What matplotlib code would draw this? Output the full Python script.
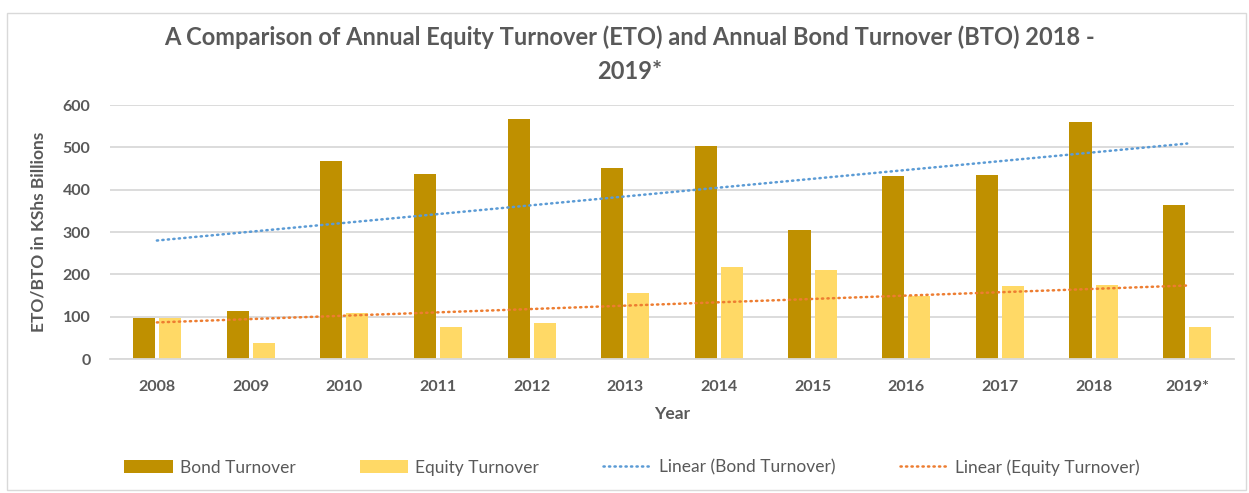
"""Equity vs bond turnover 2008-2019*, clustered bars with linear trendlines."""
import numpy as np
import matplotlib
matplotlib.use("Agg")
import matplotlib.pyplot as plt
from matplotlib.patches import Rectangle

# ── Data (KShs billions) ─────────────────────────────────────────────────────
years  = ["2008", "2009", "2010", "2011", "2012", "2013",
          "2014", "2015", "2016", "2017", "2018", "2019*"]
bond   = [97, 113, 468, 438, 566, 452, 504, 305, 432, 435, 560, 363]
equity = [97, 37, 108, 76, 86, 155, 217, 211, 150, 172, 175, 76]

BOND_C   = "#BF9000"
EQUITY_C = "#FFD966"
BLUE     = "#5B9BD5"
ORANGE   = "#ED7D31"
GREY     = "#595959"
FONT     = ["Lato", "DejaVu Sans"]

plt.rcParams["font.family"] = FONT

fig = plt.figure(figsize=(12.49, 4.93), dpi=100)
ax = fig.add_axes([0.0881, 0.2718, 0.8999, 0.5152])

x = np.arange(len(years))
w = 0.235
off = 0.139
hb = ax.bar(x - off, bond, w, color=BOND_C, label="Bond Turnover", zorder=2)
he = ax.bar(x + off, equity, w, color=EQUITY_C, label="Equity Turnover", zorder=2)

# linear trendlines (least squares, like Excel)
lines = []
for vals, col, lab in ((bond, BLUE, "Linear (Bond Turnover)"),
                       (equity, ORANGE, "Linear (Equity Turnover)")):
    k, b = np.polyfit(x, vals, 1)
    ln, = ax.plot(x, k * x + b, color=col, lw=1.8, ls=(0, (0.5, 1.7)),
                  dash_capstyle="round", label=lab, zorder=3)
    lines.append(ln)

ax.set_xlim(-0.5, len(years) - 0.5)
ax.set_ylim(0, 600)
ax.set_yticks(range(0, 601, 100))
ax.set_xticks(x)
ax.set_xticklabels(years)
ax.yaxis.grid(True, color="#D9D9D9", lw=1.3, zorder=0)
ax.set_axisbelow(True)
for s in ("top", "right", "left"):
    ax.spines[s].set_visible(False)
ax.spines["bottom"].set_color("#D9D9D9")
ax.spines["bottom"].set_linewidth(1.3)
ax.tick_params(length=0, labelsize=11.5, labelcolor=GREY)
ax.tick_params(axis="x", pad=15)
ax.tick_params(axis="y", pad=14)
for t in ax.get_xticklabels() + ax.get_yticklabels():
    t.set_fontweight("bold")

ax.set_xlabel("Year", fontsize=12.5, fontweight="bold", color=GREY, labelpad=9)
ax.set_ylabel("ETO/BTO in KShs Billions", fontsize=12.5, fontweight="bold",
              color=GREY, labelpad=12)

fig.text(0.504, 0.89,
         "A Comparison of Annual Equity Turnover (ETO) and Annual Bond Turnover (BTO) 2018 -\n2019*",
         ha="center", va="center", fontsize=17, fontweight="bold", color=GREY,
         linespacing=1.6)

fig.legend([hb, he] + lines,
           ["Bond Turnover", "Equity Turnover",
            "Linear (Bond Turnover)", "Linear (Equity Turnover)"],
           loc="center", bbox_to_anchor=(0.506, 0.052), ncol=4, frameon=False,
           fontsize=12.5, labelcolor=GREY, handlelength=2.8, handleheight=0.75,
           columnspacing=3.7, handletextpad=0.4)

# chart border
fig.patches.append(Rectangle((7 / 1249, 3 / 493), 1239 / 1249, 477 / 493,
                             transform=fig.transFigure, fill=False,
                             edgecolor="#D9D9D9", lw=1))

fig.savefig("out.png", dpi=100, facecolor="white")
